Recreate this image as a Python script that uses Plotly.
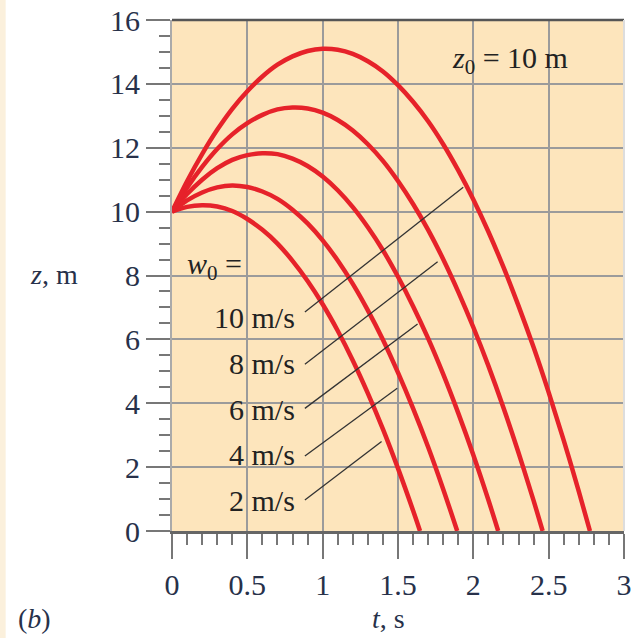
import plotly.graph_objects as go

# --- data ---
t_w2 = [0.0, 0.1, 0.2, 0.3, 0.4, 0.5, 0.6, 0.7, 0.8, 0.9, 1.0, 1.1, 1.2, 1.3, 1.4, 1.5, 1.6, 1.646]
z_w2 = [10.0, 10.15, 10.20, 10.16, 10.02, 9.77, 9.43, 9.00, 8.46, 7.83, 7.10, 6.27, 5.34,
        4.31, 3.19, 1.96, 0.64, 0.0]

t_w4 = [0.0, 0.1, 0.2, 0.3, 0.4, 0.5, 0.6, 0.7, 0.8, 0.9, 1.0, 1.1, 1.2, 1.3, 1.4, 1.5,
        1.6, 1.7, 1.8, 1.893]
z_w4 = [10.0, 10.35, 10.60, 10.76, 10.82, 10.77, 10.63, 10.40, 10.06, 9.63, 9.10, 8.47,
        7.74, 6.91, 5.99, 4.96, 3.84, 2.63, 1.31, 0.0]

t_w6 = [0.0, 0.1, 0.2, 0.3, 0.4, 0.5, 0.6, 0.7, 0.8, 0.9, 1.0, 1.1, 1.2, 1.3, 1.4, 1.5,
        1.6, 1.7, 1.8, 1.9, 2.0, 2.1, 2.165]
z_w6 = [10.0, 10.55, 11.00, 11.36, 11.62, 11.77, 11.83, 11.80, 11.66, 11.43, 11.10, 10.67,
        10.14, 9.51, 8.79, 7.96, 7.04, 6.03, 4.91, 3.69, 2.38, 0.97, 0.0]

t_w8 = [0.0, 0.1, 0.2, 0.3, 0.4, 0.5, 0.6, 0.7, 0.8, 0.9, 1.0, 1.1, 1.2, 1.3, 1.4, 1.5,
        1.6, 1.7, 1.8, 1.9, 2.0, 2.1, 2.2, 2.3, 2.4, 2.46]
z_w8 = [10.0, 10.75, 11.40, 11.96, 12.42, 12.77, 13.03, 13.20, 13.26, 13.23, 13.10, 12.87,
        12.54, 12.11, 11.59, 10.96, 10.24, 9.43, 8.51, 7.49, 6.38, 5.17, 3.86, 2.45, 0.95, 0.0]

t_w10 = [0.0, 0.1, 0.2, 0.3, 0.4, 0.5, 0.6, 0.7, 0.8, 0.9, 1.0, 1.1, 1.2, 1.3, 1.4, 1.5,
         1.6, 1.7, 1.8, 1.9, 2.0, 2.1, 2.2, 2.3, 2.4, 2.5, 2.6, 2.7, 2.774]
z_w10 = [10.0, 10.95, 11.80, 12.56, 13.22, 13.77, 14.23, 14.60, 14.86, 15.03, 15.10, 15.07,
         14.94, 14.71, 14.39, 13.96, 13.44, 12.83, 12.11, 11.29, 10.38, 9.37, 8.26, 7.05,
         5.75, 4.34, 2.84, 1.24, 0.0]

curves = [(t_w2, z_w2), (t_w4, z_w4), (t_w6, z_w6), (t_w8, z_w8), (t_w10, z_w10)]

speed_labels = ["10 m/s", "8 m/s", "6 m/s", "4 m/s", "2 m/s"]
label_t = [0.829, 0.829, 0.829, 0.829, 0.829]
label_z = [6.70, 5.24, 3.80, 2.40, 0.94]
leader_start_t = [0.882, 0.882, 0.882, 0.882, 0.882]
leader_start_z = [6.86, 5.22, 3.84, 2.35, 0.97]
leader_end_t = [1.933, 1.763, 1.630, 1.495, 1.391]
leader_end_z = [10.76, 8.43, 6.48, 4.47, 2.80]

x_tick_vals = [0, 0.5, 1, 1.5, 2, 2.5, 3]
x_tick_text = ["0", "0.5", "1", "1.5", "2", "2.5", "3"]
y_tick_vals = [0, 2, 4, 6, 8, 10, 12, 14, 16]
y_tick_text = ["0", "2", "4", "6", "8", "10", "12", "14", "16"]

FONT = "Liberation Serif"
TXT = "#27314a"
RED = "#e6222a"
FS = 30

fig = go.Figure()

for tt, zz in curves:
    fig.add_trace(go.Scatter(x=tt, y=zz, mode="lines", line=dict(color=RED, width=4.5, shape="spline"),
                             hoverinfo="skip", showlegend=False, cliponaxis=True))

for i in range(len(speed_labels)):
    fig.add_trace(go.Scatter(x=[leader_start_t[i], leader_end_t[i]],
                             y=[leader_start_z[i], leader_end_z[i]],
                             mode="lines", line=dict(color="#333333", width=1.3),
                             hoverinfo="skip", showlegend=False))
    fig.add_annotation(x=label_t[i], y=label_z[i], text=speed_labels[i], showarrow=False,
                       xanchor="right", yanchor="middle",
                       font=dict(family=FONT, size=FS, color="#222222"))

fig.add_annotation(x=0.279, y=8.30, text="<i>w</i><sub>0</sub> =", showarrow=False,
                   xanchor="center", yanchor="middle", font=dict(family=FONT, size=FS, color="#222222"))
fig.add_annotation(x=2.243, y=14.75, text="<i>z</i><sub>0</sub> = 10 m", showarrow=False,
                   xanchor="center", yanchor="middle", font=dict(family=FONT, size=FS, color="#222222"))

# axis titles & panel label (paper coordinates)
fig.add_annotation(xref="paper", yref="paper", x=-0.26, y=0.502, text="<i>z</i>, m", showarrow=False,
                   xanchor="center", yanchor="middle", font=dict(family=FONT, size=28, color=TXT))
fig.add_annotation(xref="paper", yref="paper", x=0.478, y=-0.172, text="<i>t</i>, s", showarrow=False,
                   xanchor="center", yanchor="middle", font=dict(family=FONT, size=28, color=TXT))
fig.add_annotation(xref="paper", yref="paper", x=-0.305, y=-0.172, text="(<i>b</i>)", showarrow=False,
                   xanchor="center", yanchor="middle", font=dict(family=FONT, size=28, color=TXT))

# top border and right edge
fig.add_shape(type="line", xref="paper", yref="paper", x0=0, x1=1, y0=1, y1=1,
              line=dict(color="#555555", width=2.5))
fig.add_shape(type="line", xref="paper", yref="paper", x0=1, x1=1, y0=0, y1=1,
              line=dict(color="#dddddd", width=2))
# cream strip on the left edge of the page
fig.add_shape(type="rect", xref="paper", yref="paper", x0=-0.381, x1=-0.368, y0=-0.3, y1=1.1,
              fillcolor="#fbf0dc", line=dict(width=0), layer="below")

fig.update_xaxes(range=[0, 3], tickvals=x_tick_vals, ticktext=x_tick_text, automargin=False,
                 showgrid=True, gridcolor="#9b9b9b", gridwidth=2,
                 ticks="outside", ticklen=25, tickwidth=2, tickcolor="#777777",
                 showline=True, linecolor="#666666", linewidth=2.5,
                 minor=dict(dtick=0.1, ticks="outside", ticklen=11, tickwidth=1.5,
                            tickcolor="#777777", showgrid=False),
                 tickfont=dict(family=FONT, size=FS, color=TXT), zeroline=False, fixedrange=True)
fig.update_yaxes(range=[0, 16], tickvals=y_tick_vals, ticktext=y_tick_text, automargin=False,
                 showgrid=True, gridcolor="#9b9b9b", gridwidth=2,
                 ticks="outside", ticklen=24, tickwidth=2, tickcolor="#777777",
                 showline=True, linecolor="#aaaaaa", linewidth=2,
                 minor=dict(dtick=0.5, ticks="outside", ticklen=11, tickwidth=1.5,
                            tickcolor="#777777", showgrid=False),
                 tickfont=dict(family=FONT, size=FS, color=TXT), zeroline=False, fixedrange=True)

fig.update_layout(width=637, height=638,
                  margin=dict(l=172, r=13, t=20, b=107, autoexpand=False),
                  plot_bgcolor="#fde5bc", paper_bgcolor="white",
                  showlegend=False)

fig.write_html("out.html", config={"displayModeBar": False},
               post_script="document.body.style.margin='0';document.body.style.overflow='hidden';")
